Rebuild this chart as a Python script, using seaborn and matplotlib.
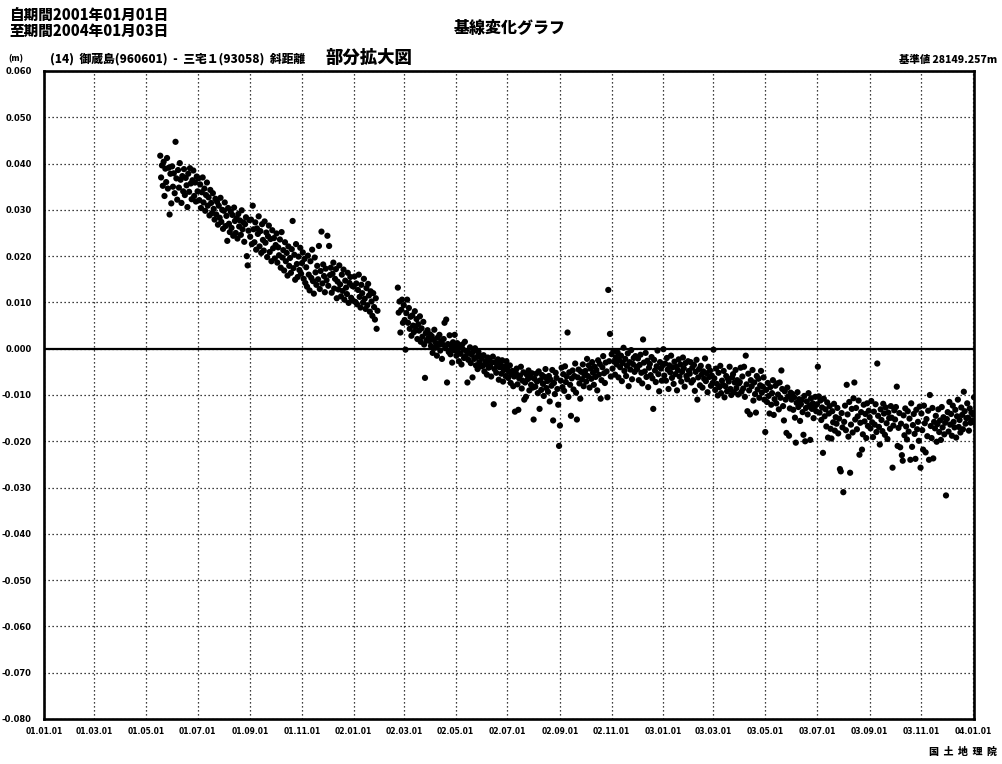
import matplotlib
matplotlib.use("Agg")
import matplotlib.pyplot as plt
import numpy as np
import pandas as pd
import seaborn as sns

# ---------------- data (mm, daily) ----------------
seg1_start = "2001-05-18"
seg1_mm = [
    41.7, 37.0, 39.6, 35.2, 40.4, 33.0, 38.9, 36.0, 41.2, 34.6, 39.1, 29.0, 37.8, 31.4,
    39.4, 35.0, 37.9, 33.6, 44.7, 36.8, 32.2, 38.6, 34.8, 40.1, 36.5, 31.5, 37.3, 34.0, 38.8,
    33.2, 36.9, 35.3, 30.6, 37.8, 33.9, 39.0, 35.7, 32.3, 36.4, 38.5, 33.0, 35.9, 31.8, 37.2,
    34.0, 36.8, 32.1, 35.5, 30.4, 33.8, 37.0, 31.6, 34.6, 29.8, 33.2, 35.9, 30.9, 32.7, 28.8,
    34.3, 31.5, 29.3, 33.6, 30.2, 27.9, 32.4, 29.0, 31.7, 26.8, 30.9, 28.3, 32.6, 27.4, 30.0, 25.9,
    29.8, 31.6, 26.5, 28.7, 23.3, 30.4, 27.0, 25.2, 29.6, 26.1, 28.9, 24.4, 30.5, 27.6, 25.0,
    28.2, 23.8, 29.1, 26.4, 27.7, 24.6, 29.9, 25.8, 27.3, 23.1, 26.9, 28.4, 20.0, 18.0, 25.5, 27.8,
    24.2, 27.9, 22.6, 30.9, 25.8, 23.0, 27.3, 21.4, 26.0, 24.8, 28.6, 22.1, 25.4, 20.7, 26.9,
    23.5, 21.2, 27.5, 22.9, 25.1, 19.8, 24.3, 26.6, 20.9, 23.7, 18.9, 25.6, 21.7, 23.9, 19.5,
    22.4, 24.9, 18.6, 21.9, 20.2, 23.6, 17.5, 25.2, 19.7, 21.3, 16.9, 23.0, 18.9, 20.7, 15.8,
    22.1, 17.9, 19.6, 16.4, 21.5, 27.6, 17.4, 20.3, 14.9, 22.6, 18.3, 15.5, 19.9, 17.0, 21.8, 16.2,
    18.5, 20.8, 15.1, 19.4, 14.2, 17.6, 13.4, 20.1, 16.0, 12.6, 18.9, 15.3, 21.4, 14.6, 11.9,
    19.7, 16.5, 13.8, 17.9, 15.0, 22.2, 12.9, 16.8, 25.3, 14.1, 18.2, 15.7, 12.2, 17.3, 14.8,
    24.4, 13.6, 22.2, 15.9, 17.5, 12.1, 16.2, 18.6, 13.0, 15.1, 17.2, 10.9, 14.5, 12.8, 18.0,
    13.9, 11.3, 16.0, 12.5, 17.1, 10.6, 14.7, 13.2, 11.8, 16.4, 9.9, 14.2, 15.5, 11.0, 13.6, 10.4,
    13.4, 15.6, 10.1, 14.1, 9.6, 12.7, 16.0, 11.2, 8.9, 13.8, 12.0, 10.0, 15.1, 10.8, 8.6,
    13.1, 9.4, 14.0, 11.5, 8.0, 12.4, 10.2, 7.1, 12.0, 9.0, 6.3, 10.9, 4.3, 8.2,
]

seg2_start = "2002-02-22"
seg2_mm = [
    13.2, 7.8, 10.2, 3.5, 8.4, 10.6, 5.6,
    9.4, 6.2, -0.2, 7.7, 10.6, 5.6, 8.8, 4.3, 6.9, 2.8, 7.2, 5.0, 3.6, 8.1, 4.7,
    6.4, 2.1, 5.3, 3.9, 7.0, 1.5, 4.4, 2.6, 5.8, 0.9, -6.3, 3.4, 1.8, 4.0, 2.3, 1.7,
    3.1, 0.6, 2.7, -0.9, 1.9, 4.1, 0.2, 1.2, -1.5, 2.4, 0.8, 3.0, -0.4, 1.6, -2.2,
    0.9, 2.1, 5.6, 0.1, 6.3, -7.3, 1.0, -0.7, 2.9, -1.2, 0.5, -3.0, 1.4, -0.3, 3.0,
    0.4, -1.5, 1.2, -0.8, -2.7, 0.6, -1.1, -3.4, 0.9, -0.2, -2.0, 1.5, -1.6, -0.5, -7.3,
    -2.4, -0.9, 0.3, -3.1, -1.3, -6.2, -0.6, -2.2, 0.1, -3.6, -1.8, -4.4, -0.7, -2.9, -1.5, -3.8,
    -2.0, -3.7, -1.4, -4.9, -2.8, -3.3, -5.6, -1.9, -4.1, -2.6, -3.9, -6.0, -3.0, -1.7, -12.0,
    -4.4, -2.9, -5.2, -3.5, -2.3, -6.7, -4.0, -3.1, -5.4, -2.5, -7.1, -4.6, -3.8, -5.9, -2.7,
    -4.2, -6.3, -5.0, -3.6, -7.4, -5.5, -4.8, -8.1, -6.0, -13.6, -5.2, -4.3, -7.7, -13.2, -6.4,
    -5.8, -3.9, -8.6, -6.9, -5.1, -11.0, -7.3, -10.4, -5.6, -6.6, -4.7, -9.0, -6.2, -7.8, -5.3, -8.4,
    -15.3, -6.5, -8.2, -5.4, -7.1, -9.6, -4.9, -13.0, -6.8, -8.9, -5.7, -7.6, -10.2, -6.1, -4.4,
    -8.5, -7.0, -9.3, -5.9, -11.4, -6.7, -8.0, -4.6, -15.5, -7.4, -9.8, -5.2, -6.3, -8.7, -12.1, -21.0,
    -16.6, -6.9, -4.1, -8.3, -5.5, -9.1, -3.8, -7.2, -6.0, 3.5, -10.4, -5.1, -7.8, -14.5, -6.4,
    -4.7, -8.8, -5.9, -3.2, -9.5, -15.3, -6.2, -4.5, -7.5, -10.8, -5.0, -6.6, -3.4, -8.1, -5.7,
    -4.8, -7.1, -2.2, -5.9, -3.6, -8.4, -4.3, -6.5, -2.9, -5.2, -7.8, -3.9, -6.1, -4.6, -9.0,
    -2.5, -5.6, -3.3, -10.8, -6.8, -4.0, -1.6, -5.3, -7.4, -3.0, -4.9, -10.5, 12.7, -2.7, 3.2, -6.0,
    -1.2, -4.3, -0.5, -2.8, -5.6, -1.9, -3.4, -0.8, -6.2, -2.5, -4.0, -1.5, -7.0, -3.1, 0.2,
    -4.8, -2.2, -5.9, -3.7, -1.0, -8.1, -2.9, -4.5, -0.3, -6.6, -3.3, -2.0, -5.0, -1.6, -3.9,
    -4.4, -2.1, -6.8, -3.5, -1.3, -5.2, -7.5, 2.0, -3.0, -4.9, -0.9, -6.1, -2.6, -8.3, -4.1,
    -3.3, -5.7, -1.8, -6.4, -13.0, -2.4, -4.7, -7.2, -3.8, -0.4, -5.5, -9.2, -2.9, -4.3, -6.9, -3.6,
]

seg3_start = "2003-01-01"
seg3_mm = [
    -0.1, -5.8, -3.2, -6.9, -2.0, -4.5, -8.7, -3.6, -5.1, -1.5, -6.3, -4.0, -7.6, -2.8, -5.5,
    -3.9, -9.0, -4.6, -2.3, -6.0, -3.4, -7.1, -5.0, -1.9, -4.2, -8.2, -3.1, -5.9, -6.6, -2.7, -4.8,
    -5.4, -2.9, -7.3, -4.1, -6.8, -3.5, -9.1, -5.0, -2.4, -11.0, -6.2, -4.4, -7.9, -3.7, -5.6,
    -8.4, -4.9, -6.5, -2.1, -7.0, -5.3, -9.4, -3.9, -6.1, -4.7, -8.0, -5.8, -7.4,
    -0.2, -6.4, -8.9, -4.3, -7.6, -10.1, -5.2, -8.3, -3.7, -9.6, -6.9, -7.8, -4.8, -10.5, -8.1,
    -5.9, -9.2, -6.5, -7.1, -3.9, -8.7, -10.0, -6.2, -5.5, -9.4, -7.3, -4.6, -8.5, -6.8, -9.9, -7.5,
    -7.2, -4.1, -9.3, -6.0, -8.6, -3.9, -10.4, -1.5, -7.7, -13.5, -5.4, -9.0, -14.2, -6.8, -8.1,
    -4.6, -11.2, -7.3, -9.8, -13.8, -5.9, -8.8, -6.5, -10.6, -7.9, -4.8, -9.5, -8.2, -6.2, -11.0,
    -18.0, -8.9, -11.5, -7.4, -10.2, -14.0, -8.3, -12.1, -9.6, -6.8, -14.3, -10.9, -8.0, -11.8, -7.5,
    -9.9, -13.1, -7.3, -10.6, -4.7, -8.7, -12.4, -15.5, -9.2, -11.0, -18.2, -8.4, -10.3, -18.8, -12.9, -9.5,
    -11.0, -9.8, -13.2, -10.5, -14.9, -20.3, -11.7, -9.4, -12.6, -10.9, -15.6, -12.0, -11.1, -13.7, -18.6,
    -10.2, -20.0, -12.8, -11.4, -14.2, -9.6, -12.3, -19.7, -10.7, -13.0, -11.8, -15.0, -12.5, -10.4, -13.5,
    -12.0, -3.9, -10.3, -13.8, -11.2, -15.4, -12.7, -22.5, -10.8, -14.6, -13.1, -16.8, -11.6, -19.2, -14.0,
    -12.4, -17.3, -19.4, -13.5, -15.9, -11.9, -17.7, -14.8, -16.2, -12.8, -18.3, -15.1, -26.0, -26.5, -13.9, -17.0,
    -31.0, -15.8, -12.3, -17.6, -7.8, -14.2, -19.0, -11.5, -26.8, -16.4, -13.0, -18.1, -10.7, -7.3, -15.3,
    -12.8, -17.4, -14.6, -11.2, -22.9, -16.0, -13.7, -21.8, -18.5, -12.1, -15.7, -14.1, -19.3, -11.8, -16.7, -13.4,
    -14.8, -17.2, -11.3, -15.9, -19.1, -13.6, -16.4, -12.0, -18.0, -3.2, -14.5, -16.9, -20.7, -13.1, -15.4,
    -17.8, -11.9, -14.0, -18.6, -12.7, -16.1, -19.5, -13.8, -15.0, -17.3, -12.4, -14.9, -25.7, -16.6, -13.3,
    -15.3, -12.6, -8.2, -21.0, -17.1, -13.9, -21.3, -16.2, -23.0, -24.2, -14.4, -18.7, -12.9, -16.8, -19.6,
    -13.5, -17.9, -15.1, -24.0, -11.8, -21.2, -16.5, -14.1, -18.4, -23.8, -13.2, -17.4, -15.8, -19.9, -12.5, -25.7,
    -14.0, -17.6, -21.8, -12.3, -16.1, -22.4, -15.2, -18.9, -13.4, -24.0, -10.0, -16.7, -19.3, -12.8, -23.7,
    -15.8, -17.2, -14.5, -20.1, -16.3, -13.1, -18.0, -15.5, -19.7, -12.6, -17.0, -14.8, -18.5, -16.0, -31.7,
    -15.2, -13.7, -17.9, -11.5, -16.4, -14.1, -18.8, -12.3, -15.8, -17.0, -13.2, -19.2, -14.6, -11.0, -16.9,
    -15.4, -18.1, -12.7, -14.3, -17.4, -9.3, -13.5, -16.2, -15.0, -11.8, -14.9, -17.7, -12.9, -16.0, -13.8, -15.5,
    -14.2, -10.5, -16.0,
]

x_tick_dates = ["2001-01-01", "2001-03-01", "2001-05-01", "2001-07-01", "2001-09-01",
                "2001-11-01", "2002-01-01", "2002-03-01", "2002-05-01", "2002-07-01",
                "2002-09-01", "2002-11-01", "2003-01-01", "2003-03-01", "2003-05-01",
                "2003-07-01", "2003-09-01", "2003-11-01", "2004-01-01"]
x_tick_labels = ["01.01.01", "01.03.01", "01.05.01", "01.07.01", "01.09.01", "01.11.01",
                 "02.01.01", "02.03.01", "02.05.01", "02.07.01", "02.09.01", "02.11.01",
                 "03.01.01", "03.03.01", "03.05.01", "03.07.01", "03.09.01", "03.11.01",
                 "04.01.01"]
y_ticks = [0.06, 0.05, 0.04, 0.03, 0.02, 0.01, 0.0, -0.01, -0.02, -0.03,
           -0.04, -0.05, -0.06, -0.07, -0.08]
y_tick_labels = ["0.060", "0.050", "0.040", "0.030", "0.020", "0.010", "0.000",
                 "-0.010", "-0.020", "-0.030", "-0.040", "-0.050", "-0.060",
                 "-0.070", "-0.080"]

# ---------------- build frame ----------------
frames = []
for start, vals in [(seg1_start, seg1_mm), (seg2_start, seg2_mm), (seg3_start, seg3_mm)]:
    frames.append(pd.DataFrame({
        "date": pd.date_range(start, periods=len(vals), freq="D"),
        "value": np.array(vals) / 1000.0,
    }))
df = pd.concat(frames, ignore_index=True)

# ---------------- plot ----------------
sns.set_theme(style="white")
plt.rcParams['font.family'] = ['Noto Sans CJK JP', 'DejaVu Sans']

W, H = 1002, 764
fig = plt.figure(figsize=(W / 100, H / 100), dpi=100)
fig.patch.set_facecolor("white")
L, R, T, B = 44, 974, 71, 719
ax = fig.add_axes([L / W, 1 - B / H, (R - L) / W, (B - T) / H])

sns.scatterplot(data=df, x="date", y="value", color="black", s=20,
                linewidth=0, edgecolor="none", ax=ax, legend=False, zorder=3)

ax.set_xlim(pd.Timestamp("2001-01-01"), pd.Timestamp("2004-01-02"))
ax.set_ylim(-0.08, 0.06)
ax.set_xticks(pd.to_datetime(x_tick_dates))
ax.set_xticklabels(x_tick_labels)
ax.set_yticks(y_ticks)
ax.set_yticklabels(y_tick_labels)
ax.set_xlabel("")
ax.set_ylabel("")
ax.tick_params(axis="both", length=0, colors="black")
ax.tick_params(axis="y", pad=9, labelsize=6)
ax.tick_params(axis="x", pad=6, labelsize=5.5)
for lab in ax.get_xticklabels() + ax.get_yticklabels():
    lab.set_fontweight("bold")
    lab.set_family("DejaVu Sans")

ax.grid(True, color="black", linestyle=(0, (1, 2.2)), linewidth=0.9, zorder=1)
ax.axhline(0, color="black", linewidth=1.6, zorder=2)
for sp in ax.spines.values():
    sp.set_color("black")
    sp.set_linewidth(1.9)
    sp.set_visible(True)

def ft(x, y, s, **kw):
    kw.setdefault("fontweight", "heavy")
    fig.text(x / W, 1 - y / H, s, va="center", color="black", **kw)

ft(9, 15, "自期間2001年01月01日", fontsize=10.5)
ft(9, 31, "至期間2004年01月03日", fontsize=10.5)
ft(510, 28, "基線変化グラフ", fontsize=11.5, ha="center")
ft(8, 58, "(m)", fontsize=6)
ft(50, 59, "(14)  御蔵島(960601)  -  三宅１(93058)  斜距離", fontsize=8.5)
ft(325, 58, "部分拡大図", fontsize=12.5)
ft(997, 60, "基準値 28149.257m", fontsize=7.5, ha="right")
ft(997, 752, "国  土  地  理  院", fontsize=7.2, ha="right")

fig.savefig("out.png", dpi=100, facecolor="white")
